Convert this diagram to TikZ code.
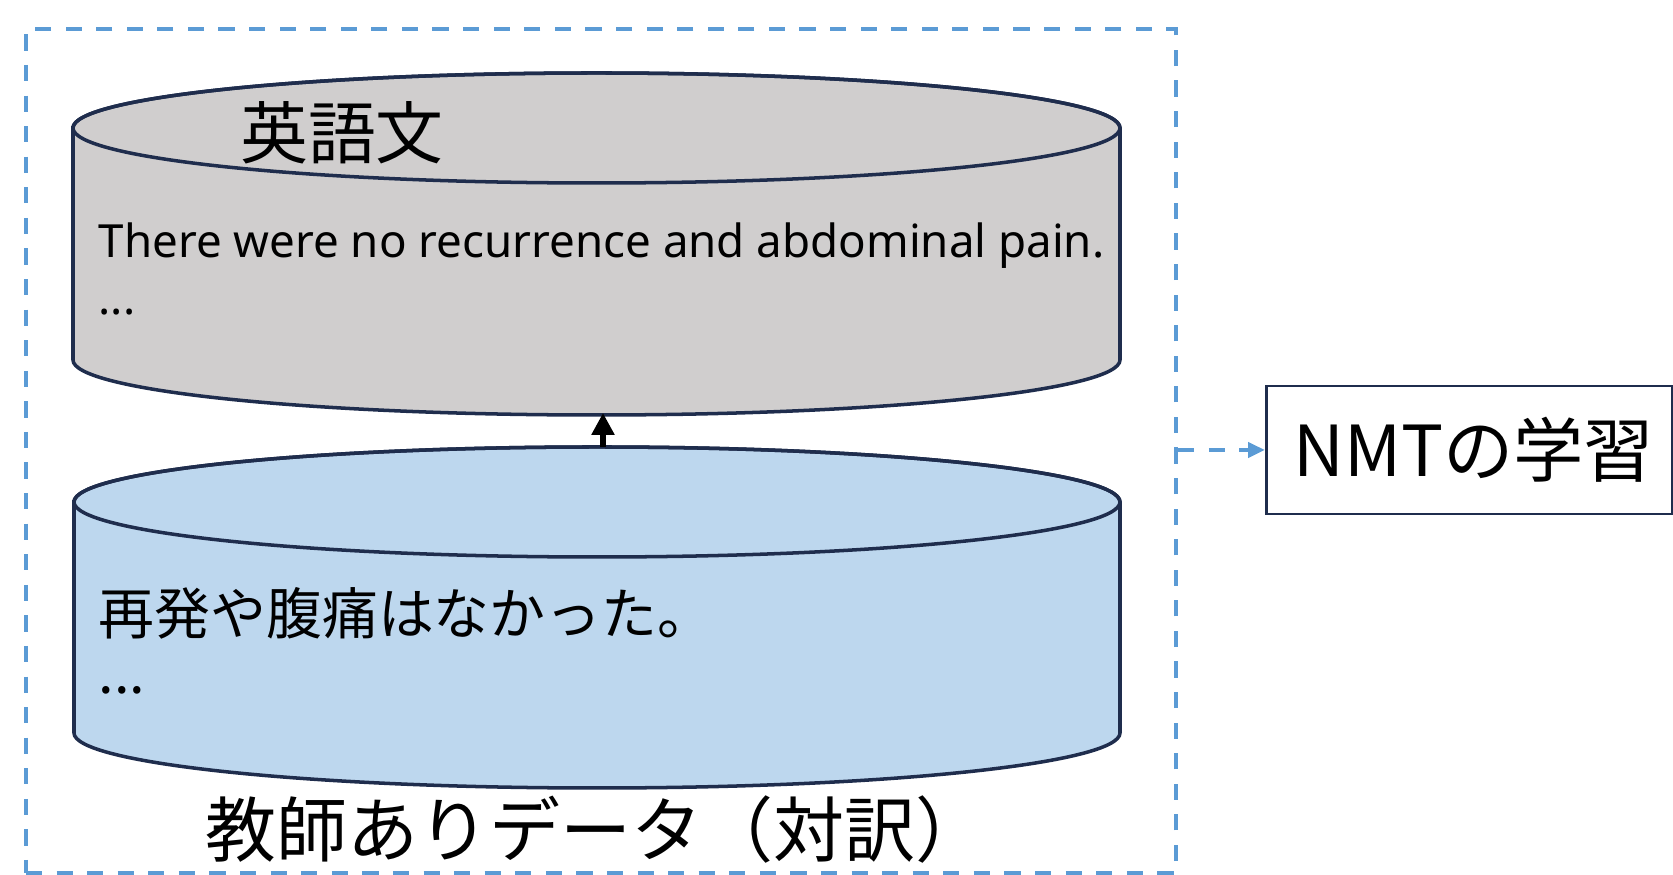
\documentclass[tikz,border=0pt]{standalone}
\usepackage{fontspec}
\setmainfont{Noto Sans CJK JP}
\newfontfamily\latinsans{Noto Sans}
\usepackage{xcolor}
\usepackage{tikz}
\usetikzlibrary{arrows.meta}

\definecolor{frameblue}{HTML}{5B9BD5}
\definecolor{cylline}{HTML}{1F2D4D}
\definecolor{engray}{HTML}{D0CECE}
\definecolor{jablue}{HTML}{BDD7EE}

\begin{document}
\begin{tikzpicture}[
  cyl/.style={draw=cylline, line width=1pt},
  frame/.style={draw=frameblue, line width=1.3pt, dash pattern=on 4.6pt off 4.1pt},
  flow/.style={draw=frameblue, line width=1.3pt, dash pattern=on 4.6pt off 4.1pt, -{Triangle[length=0.17cm, width=0.15cm, fill=frameblue]}},
  arrow/.style={-{Triangle[length=0.22cm, width=0.22cm]}, line width=1.6pt},
  big/.style={font=\fontsize{19.3}{23}\selectfont, inner sep=0pt},
  sent/.style={font=\latinsans\fontsize{13}{16}\selectfont, inner sep=0pt, anchor=base west},
  jsent/.style={font=\fontsize{15.9}{19}\selectfont, inner sep=0pt, anchor=base west}
]
\useasboundingbox (0,0) rectangle (16.73,8.75);
% outer dashed frame
\node[frame, minimum width=11.50cm, minimum height=8.44cm] (corpus) at (6.01,4.24) {};
% English side
\filldraw[cyl, fill=engray] (0.73,7.47) -- (0.73,5.15) arc[start angle=180, end angle=360, x radius=5.235, y radius=0.55] -- (11.20,7.47) arc[start angle=0, end angle=180, x radius=5.235, y radius=0.55] -- cycle;
\draw[cyl] (5.965,7.47) ellipse[x radius=5.235, y radius=0.55];
\node[big] (enlabel) at (3.42,7.42) {英語文};
\node[sent] (ensent) at (0.98,6.17) {There were no recurrence and abdominal pain.};
\node[sent] (endots) at (0.98,5.60) {...};
% Japanese side
\filldraw[cyl, fill=jablue] (0.74,3.73) -- (0.74,1.42) arc[start angle=180, end angle=360, x radius=5.23, y radius=0.55] -- (11.20,3.73) arc[start angle=0, end angle=180, x radius=5.23, y radius=0.55] -- cycle;
\draw[cyl] (5.97,3.73) ellipse[x radius=5.23, y radius=0.55];
\node[jsent] (jasent) at (0.98,2.40) {再発や腹痛はなかった。};
\node[jsent] (jadots) at (0.98,1.81) {...};
\node[big, font=\fontsize{20.2}{24}\selectfont] (caption) at (5.96,0.45) {教師ありデータ（対訳）};
% pairing arrow
\coordinate (enbottom) at (6.03,4.62);
\coordinate (jatop) at (6.03,4.28);
\draw[arrow] (jatop) -- (enbottom);
% training box
\node[draw=cylline, line width=0.8pt, anchor=west, minimum height=1.28cm, text width=3.52cm, inner xsep=0.27cm, align=left, font=\fontsize{20}{24}\selectfont] (nmt) at (12.65,4.25) {NMTの学習};
\draw[flow] (corpus.east |- nmt.west) -- (nmt.west);
\end{tikzpicture}
\end{document}
